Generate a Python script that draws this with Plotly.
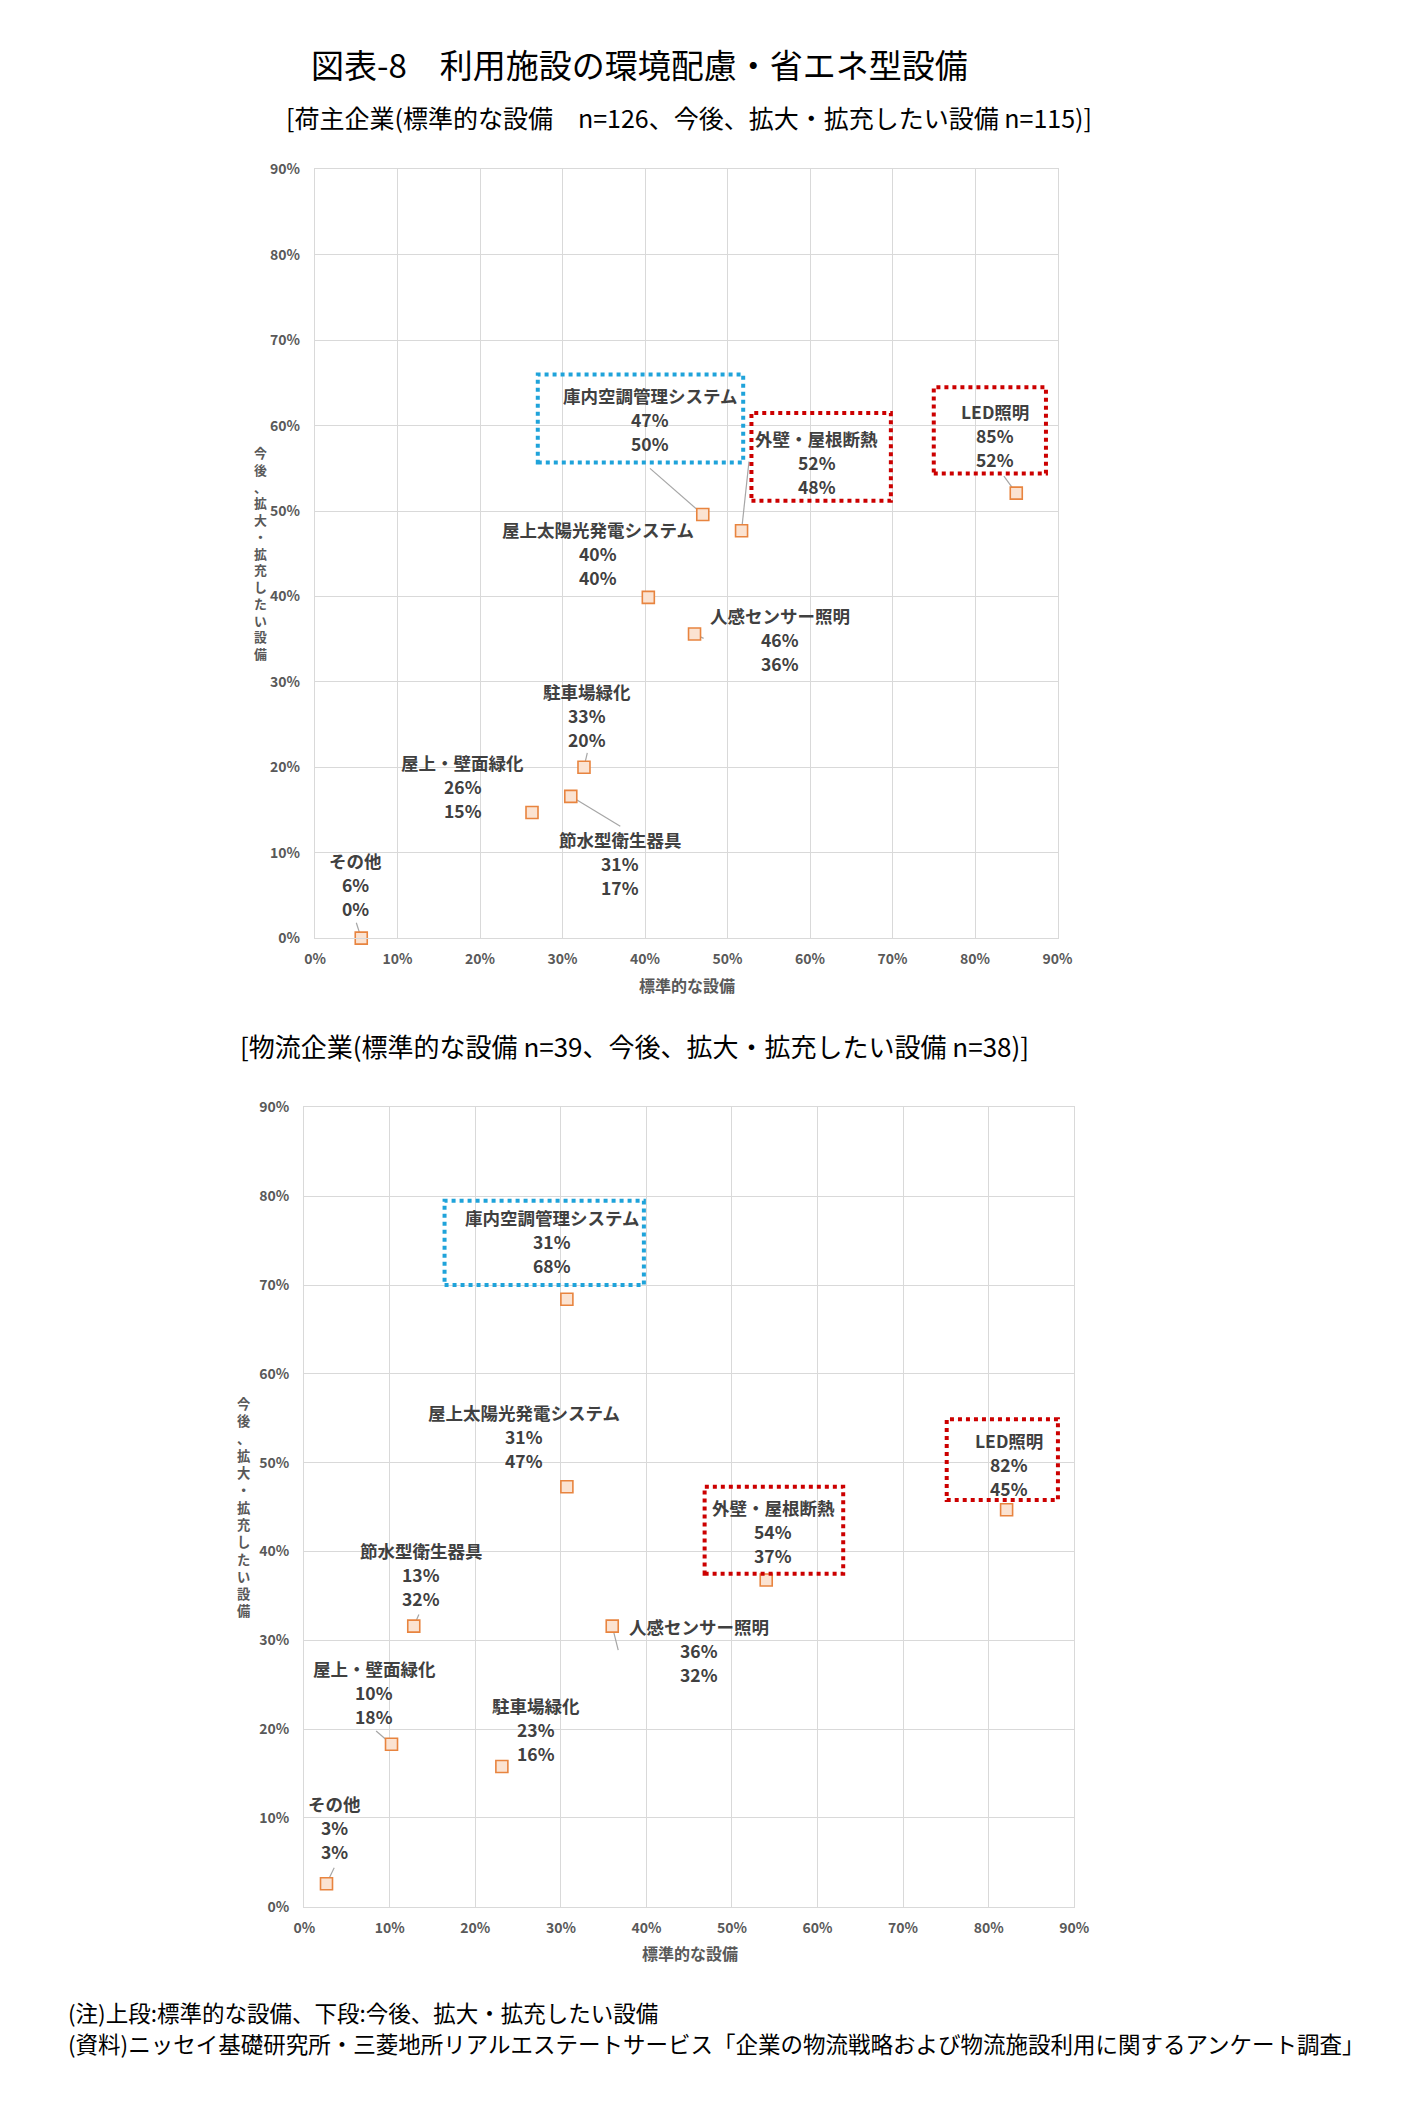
import plotly.graph_objects as go

W, H = 1406, 2102
FONT = "Noto Sans CJK JP"
GRID = "#D9D9D9"
TICK = "#595959"
LABEL = "#404040"
BLUE = "#1FA3DA"
RED = "#CC0000"

categories = ["庫内空調管理システム", "外壁・屋根断熱", "LED照明", "屋上太陽光発電システム",
              "人感センサー照明", "駐車場緑化", "屋上・壁面緑化", "節水型衛生器具", "その他"]

# 荷主企業 (x: 標準的な設備, y: 今後、拡大・拡充したい設備) 単位 %
shipper_std = [47.0, 51.7, 85.0, 40.4, 46.0, 32.6, 26.3, 31.0, 5.6]
shipper_future = [49.6, 47.7, 52.1, 39.9, 35.6, 20.0, 14.7, 16.6, 0.0]

# 物流企業
logistics_std = [30.7, 54.0, 82.1, 30.7, 36.0, 23.1, 10.2, 12.8, 2.6]
logistics_future = [68.4, 36.8, 44.7, 47.3, 31.6, 15.8, 18.3, 31.6, 2.6]

tick_vals = list(range(0, 91, 10))
tick_text = [f"{v}%" for v in tick_vals]

title = "図表-8　利用施設の環境配慮・省エネ型設備"
x_title = "標準的な設備"
y_title = "今後、拡大・拡充したい設備"
notes = ["(注)上段:標準的な設備、下段:今後、拡大・拡充したい設備",
         "(資料)ニッセイ基礎研究所・三菱地所リアルエステートサービス「企業の物流戦略および物流施設利用に関するアンケート調査」"]


def px_x(v):
    return v / W


def px_y(v):
    return 1 - v / H


# レイアウト (ピクセル位置・ラベル位置・枠)
panels = [
    dict(x=shipper_std, y=shipper_future, px=(310, 1067), py=(160, 936),
         subtitle="[荷主企業(標準的な設備　n=126、今後、拡大・拡充したい設備 n=115)]",
         sub_xy=(691, 107), sub_size=25, xtitle_xy=(689, 983), ytitle_xy=(254, 547), ytitle_size=12.9,
         label_pos=[(40.6, 60.7), (60.8, 55.7), (82.4, 58.9), (34.3, 45.0), (56.4, 35.0),
                    (33.0, 26.1), (17.9, 17.7), (37.0, 8.7), (4.9, 6.3)],
         leaders={0: (40.6, 55.0), 1: (52.6, 55.8), 2: (83.5, 54.1), 4: (47.1, 35.1),
                  5: (33.0, 21.7), 7: (37.0, 13.1), 8: (5.0, 1.8)},
         boxes=[(27.0, 51.9, 55.7, 66.0, BLUE), (52.9, 69.8, 51.2, 61.5, RED),
                (75.0, 88.6, 54.4, 64.5, RED)]),
    dict(x=logistics_std, y=logistics_future, px=(299, 1084), py=(1107, 1914),
         subtitle="[物流企業(標準的な設備 n=39、今後、拡大・拡充したい設備 n=38)]",
         sub_xy=(636, 1044), sub_size=26, xtitle_xy=(692, 1961), ytitle_xy=(238, 1510), ytitle_size=13.3,
         label_pos=[(29.0, 74.9), (54.8, 42.3), (82.4, 49.8), (25.7, 53.0), (46.2, 28.9),
                    (27.1, 20.0), (8.2, 24.1), (13.7, 37.4), (3.5, 8.9)],
         leaders={4: (36.7, 28.9), 6: (8.4, 19.8), 7: (13.4, 32.9), 8: (3.5, 4.4)},
         boxes=[(16.4, 39.7, 70.0, 79.5, BLUE), (46.8, 63.0, 37.5, 47.3, RED),
                (75.1, 88.1, 45.8, 54.9, RED)]),
]

fig = go.Figure()
annotations = []
shapes = []
layout_axes = {}

for k, p in enumerate(panels):
    sfx = "" if k == 0 else str(k + 1)
    xa, ya = "x" + sfx, "y" + sfx

    fig.add_trace(go.Scatter(
        x=p["x"], y=p["y"], xaxis=xa, yaxis=ya, mode="markers",
        marker=dict(symbol="square", size=12, color="#FBE3D2",
                    line=dict(color="#E8843F", width=1.6)),
        text=categories, hoverinfo="text+x+y", cliponaxis=False, showlegend=False))

    axis_common = dict(range=[0, 90], tickvals=tick_vals, ticktext=tick_text,
                       showgrid=True, gridcolor=GRID, gridwidth=1.3,
                       showline=True, linecolor=GRID, linewidth=1.3, mirror=True,
                       zeroline=False, ticks="", fixedrange=True,
                       tickfont=dict(family=FONT, size=14, color=TICK, weight="bold"))
    layout_axes["xaxis" + sfx] = dict(axis_common, anchor=ya, ticklabelstandoff=8,
                                      domain=[px_x(p["px"][0]), px_x(p["px"][1])])
    layout_axes["yaxis" + sfx] = dict(axis_common, anchor=xa, ticklabelstandoff=11,
                                      domain=[px_y(p["py"][1]), px_y(p["py"][0])])

    # データラベル (名称 / 標準的な設備 / 今後)
    for i, name in enumerate(categories):
        lx, ly = p["label_pos"][i]
        lines = [name, f"{round(p['x'][i])}%", f"{round(p['y'][i])}%"]
        for j, t in enumerate(lines):
            annotations.append(dict(
                x=lx, y=ly, xref=xa, yref=ya, text=t, showarrow=False,
                yshift=24 - 24 * j, xanchor="center", yanchor="middle",
                font=dict(family=FONT, size=17.5, color=LABEL, weight="bold")))

    # 引き出し線
    for i, (ex, ey) in p["leaders"].items():
        shapes.append(dict(type="line", xref=xa, yref=ya, x0=p["x"][i], y0=p["y"][i],
                           x1=ex, y1=ey, layer="between",
                           line=dict(color="#A6A6A6", width=1.2)))

    # 点線の枠
    for x0, x1, y0, y1, c in p["boxes"]:
        shapes.append(dict(type="rect", xref=xa, yref=ya, x0=x0, x1=x1, y0=y0, y1=y1,
                           layer="above", line=dict(color=c, width=4, dash="dot")))

    # サブタイトル
    annotations.append(dict(
        x=px_x(p["sub_xy"][0]), y=px_y(p["sub_xy"][1]), xref="paper", yref="paper",
        text=p["subtitle"], showarrow=False, xanchor="center", yanchor="middle",
        font=dict(family=FONT, size=p["sub_size"], color="#000000")))

    # 軸タイトル
    annotations.append(dict(
        x=px_x(p["xtitle_xy"][0]), y=px_y(p["xtitle_xy"][1]), xref="paper", yref="paper",
        text=x_title, showarrow=False, xanchor="center", yanchor="middle",
        font=dict(family=FONT, size=16, color=TICK, weight="bold")))
    annotations.append(dict(
        x=px_x(p["ytitle_xy"][0]), y=px_y(p["ytitle_xy"][1]), xref="paper", yref="paper",
        text="<br>".join(y_title), showarrow=False, xanchor="center", yanchor="middle",
        font=dict(family=FONT, size=p["ytitle_size"], color=TICK, weight="bold")))

annotations.append(dict(
    x=px_x(641), y=px_y(54), xref="paper", yref="paper", text=title, showarrow=False,
    xanchor="center", yanchor="middle", font=dict(family=FONT, size=33, color="#000000")))

for j, t in enumerate(notes):
    annotations.append(dict(
        x=px_x(56), y=px_y(2020 + 32 * j), xref="paper", yref="paper", text=t,
        showarrow=False, xanchor="left", yanchor="middle",
        font=dict(family=FONT, size=22.5, color="#000000")))

fig.update_layout(
    width=W, height=H, margin=dict(l=0, r=0, t=0, b=0),
    paper_bgcolor="#FFFFFF", plot_bgcolor="#FFFFFF",
    annotations=annotations, shapes=shapes, hovermode="closest",
    **layout_axes)

fig.write_html("out.html", config={"displayModeBar": False},
               post_script="document.body.style.margin='0';document.body.style.overflow='hidden';")
